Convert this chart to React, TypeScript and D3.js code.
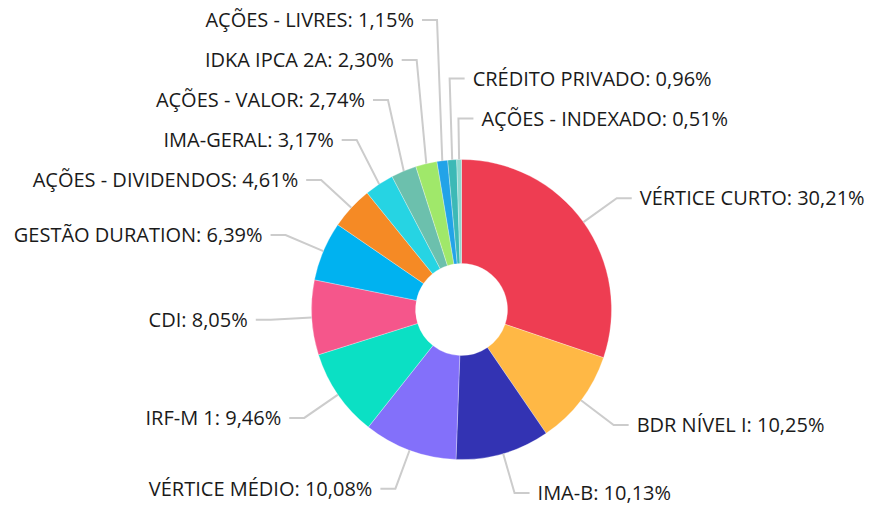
import React from 'react';
import * as d3 from 'd3';

const categories = [
  'VÉRTICE CURTO',
  'BDR NÍVEL I',
  'IMA-B',
  'VÉRTICE MÉDIO',
  'IRF-M 1',
  'CDI',
  'GESTÃO DURATION',
  'AÇÕES - DIVIDENDOS',
  'IMA-GERAL',
  'AÇÕES - VALOR',
  'IDKA IPCA 2A',
  'AÇÕES - LIVRES',
  'CRÉDITO PRIVADO',
  'AÇÕES - INDEXADO',
];
const values = [30.21, 10.25, 10.13, 10.08, 9.46, 8.05, 6.39, 4.61, 3.17, 2.74, 2.3, 1.15, 0.96, 0.51];
const colors = [
  '#EE3D52', '#FFB845', '#3333B3', '#8370FA', '#0BE0C4', '#F5568B', '#00B2F0',
  '#F58A25', '#26D4E3', '#6CC0AD', '#A0E86A', '#22A3E8', '#3CB9B6', '#8ED8CF',
];

const W = 869;
const H = 505;
const cx = 461.5;
const cy = 309.5;
const outerR = 150;
const innerR = 46;
const lineLen = 41;
const lineLen2 = 15;
const textGap = 8;
const labelGap = 40;
const topTolerance = -0.09;

type Lab = {
  i: number;
  side: number;
  key: number;
  p0: [number, number];
  ex: number;
  y: number;
};

export default function App() {
  const arcs = d3.pie<number>().sort(null).value((d) => d)(values);
  const arcGen = d3.arc<d3.PieArcDatum<number>>().innerRadius(innerR).outerRadius(outerR);

  const labs: Lab[] = arcs.map((a, i) => {
    const mid = (a.startAngle + a.endAngle) / 2;
    const s = Math.sin(mid);
    const c = Math.cos(mid);
    const side = s > topTolerance ? 1 : -1;
    const key = side === 1 ? (mid > Math.PI ? mid - 2 * Math.PI : mid) : 2 * Math.PI - mid;
    return {
      i,
      side,
      key,
      p0: [cx + outerR * s, cy - outerR * c],
      ex: cx + (outerR + lineLen) * s,
      y: cy - (outerR + lineLen) * c,
    };
  });

  [1, -1].forEach((side) => {
    const list = labs.filter((l) => l.side === side).sort((a, b) => a.key - b.key);
    for (let k = list.length - 2; k >= 0; k--) {
      list[k].y = Math.min(list[k].y, list[k + 1].y - labelGap);
    }
    const minY = 12;
    if (list.length && list[0].y < minY) {
      list[0].y = minY;
      for (let k = 1; k < list.length; k++) list[k].y = Math.max(list[k].y, list[k - 1].y + labelGap);
    }
  });

  const fmt = (v: number) => v.toFixed(2).replace('.', ',') + '%';

  return (
    <svg
      width={W}
      height={H}
      style={{ position: 'absolute', left: 0, top: 0, background: '#fff' }}
      fontFamily="'Open Sans', 'Noto Sans', sans-serif"
    >
      <g>
        {arcs.map((a, i) => (
          <path
            key={i}
            d={arcGen(a) || ''}
            transform={`translate(${cx},${cy})`}
            fill={colors[i]}
            stroke="#fff"
            strokeWidth={0.3}
          />
        ))}
      </g>
      <g>
        {labs.map((l) => {
          const endX = l.ex + l.side * lineLen2;
          return (
            <g key={l.i}>
              <polyline
                points={`${l.p0[0]},${l.p0[1]} ${l.ex},${l.y} ${endX},${l.y}`}
                fill="none"
                stroke="#cccccc"
                strokeWidth={2}
              />
              <text
                x={endX + l.side * textGap}
                y={l.y}
                dy="0.36em"
                textAnchor={l.side === 1 ? 'start' : 'end'}
                fontSize={20}
                fill="#1a1a1a"
              >
                {categories[l.i]}: {fmt(values[l.i])}
              </text>
            </g>
          );
        })}
      </g>
    </svg>
  );
}
